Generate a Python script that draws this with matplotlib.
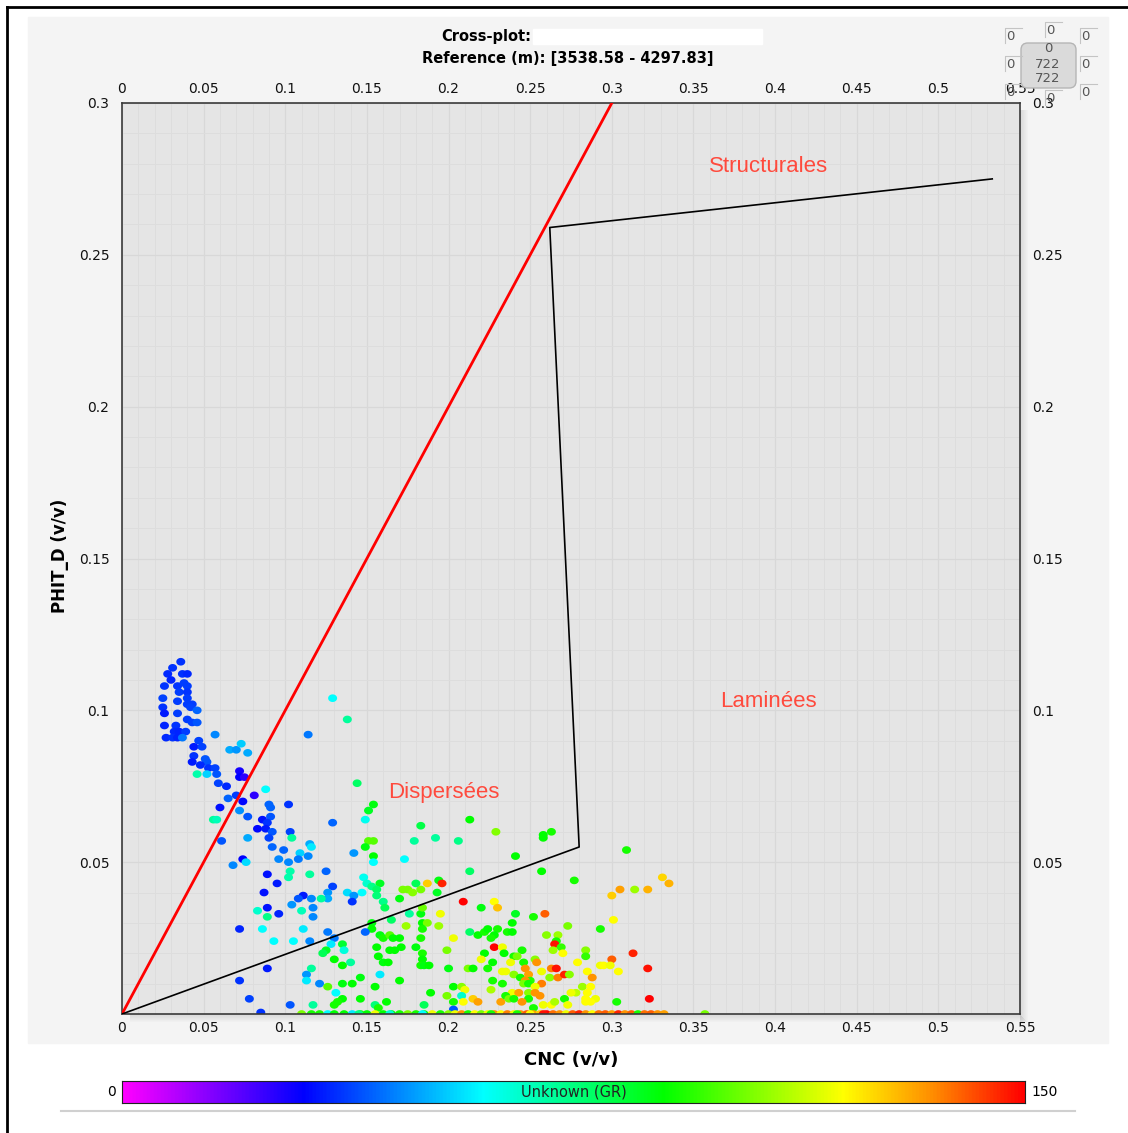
import numpy as np
import matplotlib
matplotlib.use('Agg')
import matplotlib.pyplot as plt
from matplotlib.colors import LinearSegmentedColormap
from matplotlib.patches import Rectangle, FancyBboxPatch
from matplotlib.lines import Line2D
from matplotlib.path import Path

W, H = 1128, 1133

# --- cross-plot samples (CNC v/v, PHIT_D v/v, GR api) -----------------------
# clean sand trend, low GR
sand_cnc = [0.036, 0.031, 0.028, 0.030, 0.037, 0.040, 0.026, 0.034, 0.038, 0.040,
            0.035, 0.040, 0.025, 0.040, 0.034, 0.040, 0.043, 0.025, 0.026, 0.034,
            0.042, 0.046, 0.026, 0.033, 0.040, 0.043, 0.046, 0.032, 0.035, 0.039,
            0.027, 0.031, 0.034, 0.037, 0.057, 0.047, 0.044, 0.049, 0.066, 0.070,
            0.073, 0.077, 0.044, 0.051, 0.052, 0.043, 0.048, 0.053, 0.057, 0.058,
            0.046, 0.052, 0.072, 0.072, 0.075, 0.059, 0.064, 0.088, 0.070, 0.081,
            0.065, 0.090, 0.091, 0.074, 0.060, 0.102, 0.072, 0.077, 0.091, 0.056,
            0.058, 0.086, 0.089, 0.083, 0.088, 0.092, 0.103, 0.114]
sand_phit = [0.116, 0.114, 0.112, 0.110, 0.112, 0.112, 0.108, 0.108, 0.109, 0.108,
             0.106, 0.106, 0.104, 0.104, 0.103, 0.102, 0.102, 0.101, 0.099, 0.099,
             0.101, 0.100, 0.095, 0.095, 0.097, 0.096, 0.096, 0.093, 0.093, 0.093,
             0.091, 0.091, 0.091, 0.091, 0.092, 0.090, 0.088, 0.088, 0.087, 0.087,
             0.089, 0.086, 0.085, 0.084, 0.083, 0.083, 0.082, 0.081, 0.081, 0.079,
             0.079, 0.079, 0.080, 0.078, 0.078, 0.076, 0.075, 0.074, 0.072, 0.072,
             0.071, 0.069, 0.068, 0.070, 0.068, 0.069, 0.067, 0.065, 0.065, 0.064,
             0.064, 0.064, 0.063, 0.061, 0.061, 0.060, 0.060, 0.092]
sand_gr = [36, 36, 35, 34, 36, 35, 36, 36, 37, 37,
           37, 36, 38, 37, 37, 37, 37, 36, 33, 37,
           38, 42, 34, 36, 37, 38, 40, 35, 34, 37,
           35, 36, 34, 44, 46, 38, 33, 38, 50, 48,
           54, 50, 36, 40, 40, 33, 35, 36, 38, 40,
           70, 55, 28, 30, 25, 38, 35, 60, 37, 25,
           42, 42, 42, 31, 32, 36, 47, 40, 40, 72,
           68, 32, 36, 31, 33, 40, 38, 44]

# sparse points above the dispersed-shale line
upper_cnc = [0.129, 0.138, 0.144, 0.154, 0.151, 0.129, 0.149, 0.183, 0.213, 0.229,
             0.263, 0.258, 0.104, 0.077, 0.061, 0.090, 0.115, 0.116, 0.092, 0.099,
             0.109, 0.114, 0.108, 0.074, 0.068, 0.076, 0.096, 0.102, 0.151, 0.154,
             0.149, 0.154, 0.154, 0.179, 0.192, 0.206, 0.142, 0.173, 0.258, 0.241,
             0.309, 0.257, 0.277, 0.331, 0.335, 0.314, 0.322, 0.305, 0.300]
upper_phit = [0.104, 0.097, 0.076, 0.069, 0.067, 0.063, 0.064, 0.062, 0.064, 0.060,
              0.060, 0.059, 0.058, 0.058, 0.057, 0.058, 0.056, 0.055, 0.055, 0.054,
              0.053, 0.052, 0.051, 0.051, 0.049, 0.050, 0.051, 0.050, 0.057, 0.057,
              0.055, 0.052, 0.050, 0.057, 0.058, 0.057, 0.053, 0.051, 0.058, 0.052,
              0.054, 0.047, 0.044, 0.045, 0.043, 0.041, 0.041, 0.041, 0.039]
upper_gr = [60, 72, 78, 88, 86, 42, 62, 82, 90, 105,
            92, 90, 72, 50, 40, 38, 50, 58, 42, 42,
            55, 46, 44, 30, 46, 56, 46, 46, 100, 100,
            88, 90, 60, 72, 72, 74, 48, 60, 90, 90,
            92, 90, 92, 125, 130, 108, 130, 132, 126]

# dispersed / shaly sands, middle of the cloud
mid_cnc = [0.103, 0.102, 0.089, 0.115, 0.095, 0.087, 0.111, 0.108, 0.116, 0.104,
           0.110, 0.089, 0.083, 0.089, 0.096, 0.117, 0.117, 0.072, 0.086, 0.111,
           0.093, 0.105, 0.115, 0.125, 0.129, 0.148, 0.150, 0.153, 0.158, 0.156,
           0.147, 0.138, 0.142, 0.141, 0.126, 0.126, 0.122, 0.156, 0.160, 0.161,
           0.170, 0.172, 0.175, 0.178, 0.183, 0.180, 0.187, 0.194, 0.196, 0.193,
           0.213, 0.209, 0.220, 0.228, 0.230, 0.165, 0.176, 0.183, 0.184, 0.195,
           0.153, 0.153, 0.149, 0.126, 0.130, 0.128, 0.174, 0.184, 0.187, 0.184,
           0.194, 0.203, 0.213, 0.218, 0.222, 0.224, 0.230, 0.228, 0.226, 0.158,
           0.160, 0.164, 0.166, 0.170, 0.183, 0.135, 0.136, 0.125, 0.123, 0.156,
           0.164, 0.167, 0.171, 0.180, 0.199, 0.228, 0.222, 0.233, 0.241, 0.239,
           0.252, 0.259, 0.301, 0.273, 0.293, 0.236, 0.239, 0.260, 0.267, 0.266,
           0.265, 0.269, 0.245]
mid_phit = [0.047, 0.045, 0.046, 0.046, 0.043, 0.040, 0.039, 0.038, 0.038, 0.036,
            0.034, 0.035, 0.034, 0.032, 0.033, 0.035, 0.032, 0.028, 0.028, 0.028,
            0.024, 0.024, 0.024, 0.047, 0.042, 0.045, 0.043, 0.042, 0.043, 0.041,
            0.040, 0.040, 0.039, 0.037, 0.040, 0.038, 0.038, 0.039, 0.037, 0.035,
            0.038, 0.041, 0.041, 0.040, 0.041, 0.043, 0.043, 0.044, 0.043, 0.040,
            0.047, 0.037, 0.035, 0.037, 0.035, 0.031, 0.033, 0.033, 0.035, 0.033,
            0.030, 0.028, 0.027, 0.027, 0.025, 0.023, 0.029, 0.030, 0.030, 0.028,
            0.029, 0.025, 0.027, 0.026, 0.027, 0.028, 0.028, 0.026, 0.025, 0.026,
            0.025, 0.026, 0.025, 0.025, 0.025, 0.023, 0.021, 0.021, 0.020, 0.022,
            0.021, 0.021, 0.022, 0.022, 0.021, 0.022, 0.020, 0.022, 0.033, 0.030,
            0.032, 0.033, 0.031, 0.029, 0.028, 0.027, 0.027, 0.026, 0.026, 0.024,
            0.023, 0.022, 0.021]
mid_gr = [70, 70, 32, 72, 33, 32, 33, 40, 46, 48,
          68, 32, 66, 74, 34, 46, 46, 34, 60, 58,
          60, 60, 46, 42, 38, 62, 66, 74, 86, 78,
          60, 56, 48, 36, 48, 50, 72, 76, 74, 80,
          88, 104, 104, 106, 104, 80, 126, 88, 146, 86,
          78, 150, 88, 120, 128, 78, 72, 88, 102, 118,
          88, 90, 42, 44, 44, 58, 108, 90, 104, 92,
          108, 118, 78, 90, 92, 90, 92, 90, 92, 88,
          92, 100, 90, 90, 92, 84, 64, 86, 80, 90,
          90, 90, 90, 88, 104, 150, 90, 118, 86, 90,
          92, 140, 120, 104, 92, 92, 90, 106, 108, 92,
          148, 96, 92]

# low-porosity shaly points near the base
low_cnc = [0.089, 0.116, 0.113, 0.113, 0.072, 0.078, 0.103, 0.117, 0.085, 0.184,
           0.184, 0.157, 0.130, 0.140, 0.135, 0.160, 0.163, 0.183, 0.185, 0.188,
           0.200, 0.220, 0.227, 0.224, 0.233, 0.212, 0.215, 0.158, 0.121, 0.126,
           0.131, 0.135, 0.141, 0.146, 0.155, 0.170, 0.189, 0.199, 0.203, 0.208,
           0.210, 0.208, 0.226, 0.227, 0.233, 0.135, 0.132, 0.130, 0.146, 0.155,
           0.157, 0.162, 0.185, 0.209, 0.203, 0.215, 0.218, 0.232, 0.203, 0.234,
           0.264, 0.270, 0.284, 0.284, 0.313, 0.300, 0.240, 0.242, 0.238, 0.246,
           0.253, 0.254, 0.263, 0.266, 0.279, 0.293, 0.295, 0.299, 0.285, 0.304,
           0.322, 0.235, 0.240, 0.244, 0.247, 0.249, 0.250, 0.247, 0.257, 0.262,
           0.267, 0.271, 0.274, 0.288, 0.257, 0.246, 0.249, 0.253, 0.282, 0.287,
           0.278, 0.285, 0.275, 0.239, 0.243, 0.249, 0.253, 0.235, 0.256, 0.271,
           0.284, 0.290, 0.287, 0.284, 0.303, 0.323, 0.237, 0.240, 0.249, 0.245,
           0.252, 0.258, 0.263, 0.265, 0.273]
low_phit = [0.015, 0.015, 0.013, 0.011, 0.011, 0.005, 0.003, 0.003, 0.0005, 0.020,
            0.018, 0.019, 0.018, 0.017, 0.016, 0.017, 0.017, 0.016, 0.016, 0.016,
            0.015, 0.018, 0.017, 0.015, 0.014, 0.015, 0.015, 0.013, 0.010, 0.009,
            0.007, 0.010, 0.010, 0.012, 0.009, 0.011, 0.007, 0.006, 0.009, 0.009,
            0.008, 0.006, 0.008, 0.011, 0.010, 0.005, 0.004, 0.003, 0.005, 0.003,
            0.002, 0.004, 0.003, 0.004, 0.004, 0.005, 0.004, 0.004, 0.0015, 0.020,
            0.021, 0.020, 0.021, 0.019, 0.020, 0.018, 0.019, 0.019, 0.017, 0.017,
            0.018, 0.017, 0.015, 0.015, 0.017, 0.016, 0.016, 0.016, 0.014, 0.014,
            0.015, 0.014, 0.013, 0.012, 0.015, 0.013, 0.011, 0.011, 0.014, 0.012,
            0.012, 0.013, 0.013, 0.012, 0.010, 0.010, 0.010, 0.009, 0.009, 0.009,
            0.007, 0.007, 0.007, 0.007, 0.007, 0.007, 0.007, 0.006, 0.006, 0.005,
            0.005, 0.005, 0.004, 0.004, 0.004, 0.005, 0.005, 0.005, 0.005, 0.004,
            0.002, 0.003, 0.003, 0.004, 0.003]
low_gr = [33, 72, 48, 58, 36, 38, 40, 72, 36, 92,
          90, 90, 90, 72, 90, 88, 90, 92, 88, 90,
          88, 118, 90, 92, 118, 104, 90, 58, 46, 100,
          60, 88, 90, 88, 90, 90, 90, 104, 90, 106,
          118, 66, 110, 92, 92, 90, 92, 92, 90, 76,
          92, 90, 80, 120, 92, 126, 132, 132, 40, 90,
          108, 120, 106, 96, 146, 140, 92, 104, 118, 92,
          106, 134, 136, 148, 120, 118, 120, 118, 120, 120,
          148, 118, 106, 92, 134, 132, 94, 134, 118, 106,
          136, 146, 106, 134, 136, 104, 92, 118, 108, 120,
          112, 120, 118, 118, 132, 106, 134, 92, 134, 92,
          120, 118, 120, 120, 92, 150, 104, 92, 92, 134,
          92, 118, 120, 110, 118]

# samples sitting on the PHIT_D = 0 cut-off
base_cnc = [0.110, 0.116, 0.121, 0.126, 0.130, 0.136, 0.141, 0.146, 0.150, 0.155,
            0.160, 0.165, 0.170, 0.175, 0.180, 0.185, 0.190, 0.195, 0.200, 0.204,
            0.208, 0.212, 0.216, 0.220, 0.224, 0.228, 0.232, 0.236, 0.240, 0.244,
            0.248, 0.252, 0.256, 0.260, 0.264, 0.268, 0.272, 0.276, 0.280, 0.284,
            0.288, 0.292, 0.296, 0.300, 0.304, 0.308, 0.312, 0.316, 0.320, 0.324,
            0.328, 0.332, 0.357, 0.242, 0.184, 0.164, 0.145, 0.226, 0.258, 0.250]
base_phit = [0.0] * len(base_cnc)
base_gr = [104, 92, 92, 60, 90, 90, 58, 92, 90, 118,
           90, 88, 92, 104, 92, 90, 118, 92, 106, 118,
           134, 92, 120, 104, 118, 134, 120, 136, 118, 134,
           140, 132, 126, 150, 138, 134, 118, 140, 146, 134,
           120, 138, 140, 132, 146, 134, 140, 92, 138, 140,
           134, 132, 104, 92, 60, 64, 74, 92, 148, 120]

# interpretation overlay (Thomas-Stieber style)
clean_line_x = [0.0, 0.3]
clean_line_y = [0.0, 0.3]
shale_poly_x = [0.0, 0.28, 0.262, 0.533]
shale_poly_y = [0.0, 0.055, 0.259, 0.275]
zone_names = ['Structurales', 'Laminées', 'Dispersées']
zone_x = [0.396, 0.396, 0.197]
zone_y = [0.279, 0.103, 0.073]

x_ticks = [0, 0.05, 0.1, 0.15, 0.2, 0.25, 0.3, 0.35, 0.4, 0.45, 0.5, 0.55]
y_ticks = [0.05, 0.1, 0.15, 0.2, 0.25, 0.3]
gr_min, gr_max = 0, 150
depth_top, depth_base = 3538.58, 4297.83
n_points = 722

cnc = np.array(sand_cnc + upper_cnc + mid_cnc + low_cnc + base_cnc)
phit = np.array(sand_phit + upper_phit + mid_phit + low_phit + base_phit)
gr = np.array(sand_gr + upper_gr + mid_gr + low_gr + base_gr)

gr_cmap = LinearSegmentedColormap.from_list('gr', [
    (0.0, '#ff00ff'), (0.2, '#0000ff'), (0.4, '#00ffff'), (0.6, '#00ff00'),
    (0.8, '#ffff00'), (0.9, '#ff8c00'), (1.0, '#ff0000')])


def fx(px):
    return px / W


def fy(py):
    return 1 - py / H


fig = plt.figure(figsize=(W / 100, H / 100), dpi=100, facecolor='white')

# panel background + frame lines
fig.patches.append(Rectangle((fx(28), fy(1043)), fx(1108) - fx(28), fy(17) - fy(1043),
                             transform=fig.transFigure, color='#f4f4f4', zorder=-2))
fig.add_artist(Line2D([fx(7), fx(7)], [fy(7), fy(1133)], color='black', lw=2))
fig.add_artist(Line2D([fx(7), fx(1128)], [fy(7), fy(7)], color='black', lw=2))

# drop shadow on the plot area
for i in range(8):
    a = 0.11 * (1 - i / 8)
    fig.patches.append(Rectangle((fx(1020 + i), fy(1022)), fx(1), fy(110) - fy(1022),
                                 transform=fig.transFigure, color='black', alpha=a,
                                 lw=0, zorder=-1))
    fig.patches.append(Rectangle((fx(130), fy(1015 + i)), fx(1020 + i) - fx(130), 1 / H,
                                 transform=fig.transFigure, color='black', alpha=a,
                                 lw=0, zorder=-1))

ax = fig.add_axes([fx(122), fy(1014), fx(1020) - fx(122), fy(103) - fy(1014)])
ax.set_zorder(1)
ax.set_facecolor('#e5e5e5')
ax.set_xlim(0, 0.55)
ax.set_ylim(0, 0.3)
ax.set_xticks(x_ticks)
ax.set_xticklabels([f'{v:g}' for v in x_ticks])
ax.set_yticks(y_ticks)
ax.set_yticklabels([f'{v:g}' for v in y_ticks])
ax.set_xticks(np.arange(0, 0.551, 0.01), minor=True)
ax.set_yticks(np.arange(0, 0.301, 0.01), minor=True)
ax.grid(which='minor', color='#dddddd', lw=0.7)
ax.grid(which='major', color='#d8d8d8', lw=0.9)
ax.set_axisbelow(True)
ax.tick_params(which='both', length=0, labelsize=10, colors='#111111',
               labeltop=True, labelright=True)
ax.tick_params(axis='y', which='major', pad=9)
ax.tick_params(axis='x', which='major', pad=5)
for s in ax.spines.values():
    s.set_color('#3a3a3a')
    s.set_linewidth(1.2)

theta = np.linspace(0, 2 * np.pi, 40)
dot = Path(np.c_[np.cos(theta), 0.85 * np.sin(theta)], closed=True)
ax.scatter(cnc, phit, c=gr, cmap=gr_cmap, vmin=gr_min, vmax=gr_max,
           s=42, marker=dot, linewidths=0, zorder=2)

ax.plot(clean_line_x, clean_line_y, color='#ff0000', lw=2.0, zorder=3)
ax.plot(shale_poly_x, shale_poly_y, color='black', lw=1.2, zorder=3)
for name, zx, zy in zip(zone_names, zone_x, zone_y):
    ax.text(zx, zy, name, color='#ff4a3d', fontsize=16, family='Liberation Sans',
            ha='center', va='center', zorder=4)

# titles and axis names
fig.text(fx(486), fy(37), 'Cross-plot:', ha='center', va='center',
         fontsize=10.5, fontweight='bold')
fig.patches.append(Rectangle((fx(533), fy(44)), fx(762) - fx(533), fy(29) - fy(44),
                             transform=fig.transFigure, color='white', zorder=2))
fig.text(fx(568), fy(58), f'Reference (m): [{depth_top:.2f} - {depth_base:.2f}]',
         ha='center', va='center', fontsize=10.5, fontweight='bold')
fig.text(fx(571), fy(1060), 'CNC (v/v)', ha='center', va='center',
         fontsize=13, fontweight='bold')
fig.text(fx(60), fy(556), 'PHIT_D (v/v)', ha='center', va='center',
         fontsize=12, fontweight='bold', rotation=90)

# GR colour scale
cax = fig.add_axes([fx(122), fy(1103), fx(1025) - fx(122), fy(1081) - fy(1103)])
cax.set_zorder(1)
cax.imshow(np.linspace(0, 1, 512)[None, :], aspect='auto', cmap=gr_cmap,
           extent=[gr_min, gr_max, 0, 1])
cax.set_xticks([])
cax.set_yticks([])
for s in cax.spines.values():
    s.set_color('#222222')
    s.set_linewidth(0.8)
cax.text(0.5, 0.5, 'Unknown (GR)', transform=cax.transAxes, ha='center',
         va='center', fontsize=10.5, color='#222222')
fig.text(fx(116), fy(1092), f'{gr_min}', ha='right', va='center', fontsize=10)
fig.text(fx(1031), fy(1092), f'{gr_max}', ha='left', va='center', fontsize=10)
fig.add_artist(Line2D([fx(61), fx(1075)], [fy(1111), fy(1111)], color='#d0d0d0', lw=1.5))

# point-count widget in the corner
box = FancyBboxPatch((fx(1021), fy(88)), fx(1076) - fx(1021), fy(43) - fy(88),
                     boxstyle='round,pad=0,rounding_size=0.006',
                     transform=fig.transFigure, facecolor='#dadada',
                     edgecolor='#b5b5b5', lw=1, zorder=5)
fig.patches.append(box)
for txt, py in zip(['0', f'{n_points}', f'{n_points}'], [49, 64, 79]):
    fig.text(fx(1048), fy(py), txt, ha='center', va='center', fontsize=9.5,
             color='#555555', zorder=6)
for px, py in [(1010, 36), (1050, 30), (1085, 36), (1010, 64), (1085, 64),
               (1010, 92), (1050, 98), (1085, 92)]:
    fig.add_artist(Line2D([fx(px - 5), fx(px - 5), fx(px + 12)],
                          [fy(py + 7), fy(py - 8), fy(py - 8)],
                          color='#c4c4c4', lw=0.8, zorder=6))
    fig.text(fx(px), fy(py), '0', ha='center', va='center', fontsize=9.5,
             color='#555555', zorder=6)

fig.savefig('out.png', dpi=100, facecolor='white')
